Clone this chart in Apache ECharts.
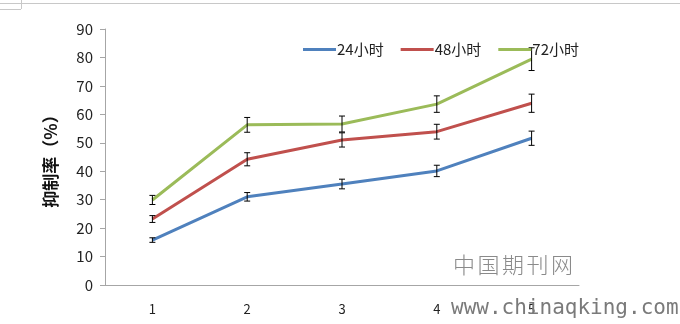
<!DOCTYPE html>
<html>
<head>
<meta charset="utf-8">
<script src="https://cdn.jsdelivr.net/npm/echarts@6/dist/echarts.min.js"></script>
<style>
  html, body { margin: 0; padding: 0; background: #fff; }
  #chart-container { width: 680px; height: 324px; }
</style>
</head>
<body>
<div id="chart-container"></div>
<script>
// data
const categories = ['1', '2', '3', '4', '5'];
const h24 = [15.8, 31.0, 35.5, 40.1, 51.6];
const h48 = [23.2, 44.2, 51.0, 53.9, 63.9];
const h72 = [29.9, 56.3, 56.6, 63.6, 79.4];
const err24 = [0.8, 1.5, 1.7, 2.0, 2.5];
const err48 = [1.2, 2.3, 2.5, 2.6, 3.2];
const err72 = [1.6, 2.6, 2.8, 2.9, 4.0];
const seriesNames = ['24小时', '48小时', '72小时'];
const colors = ['#4F81BD', '#C0504D', '#9BBB59'];
const watermark = '中国期刊网';

var dom = document.getElementById('chart-container');
var myChart = echarts.init(dom, null, { renderer: 'canvas' });

const font = '"Noto Sans CJK SC", "Liberation Sans", sans-serif';

function errBars(vals, errs) {
  return vals.map(function (v, i) { return [i, v - errs[i], v + errs[i]]; });
}

function renderErr(params, api) {
  var lo = api.coord([api.value(0), api.value(1)]);
  var hi = api.coord([api.value(0), api.value(2)]);
  var w = 3;
  var st = { stroke: '#000', lineWidth: 1 };
  return {
    type: 'group',
    children: [
      { type: 'line', shape: { x1: lo[0], y1: lo[1], x2: hi[0], y2: hi[1] }, style: st },
      { type: 'line', shape: { x1: lo[0] - w, y1: lo[1], x2: lo[0] + w, y2: lo[1] }, style: st },
      { type: 'line', shape: { x1: hi[0] - w, y1: hi[1], x2: hi[0] + w, y2: hi[1] }, style: st }
    ]
  };
}

function lineSeries(name, data, color) {
  return {
    name: name,
    type: 'line',
    data: data,
    symbol: 'none',
    z: 2,
    lineStyle: { color: color, width: 3 },
    itemStyle: { color: color }
  };
}

function errSeries(vals, errs) {
  return {
    type: 'custom',
    renderItem: renderErr,
    data: errBars(vals, errs),
    z: 3,
    silent: true
  };
}

// watermark, one glyph at a time so it keeps its wide spacing
var marks = watermark.split('').map(function (ch, i) {
  return {
    type: 'text', left: 453 + i * 24.5, top: 254, z: 10,
    style: { text: ch, fill: '#8a8a8a', font: '300 22px "Noto Sans CJK SC", serif' }
  };
});

var option = {
  animation: false,
  textStyle: { fontFamily: font },
  grid: { left: 105, right: 101, top: 29, bottom: 39 },
  legend: {
    data: seriesNames.map(function (n) { return { name: n, icon: 'rect' }; }),
    left: 298,
    top: 37,
    itemWidth: 33,
    itemHeight: 3,
    itemGap: 17,
    textStyle: { fontSize: 15, color: '#222', fontFamily: font, padding: [0, 0, 0, -4] }
  },
  xAxis: {
    type: 'category',
    data: categories,
    axisLine: { lineStyle: { color: '#a6a6a6' } },
    axisTick: { alignWithLabel: true, length: 5, lineStyle: { color: '#a6a6a6' } },
    axisLabel: { color: '#222', fontSize: 13, margin: 18 }
  },
  yAxis: {
    type: 'value',
    min: 0,
    max: 90,
    interval: 10,
    name: '抑制率（%）',
    nameLocation: 'middle',
    nameGap: 46,
    nameTextStyle: { fontSize: 17, color: '#111', fontWeight: 'bold', fontFamily: font },
    axisLine: { show: true, lineStyle: { color: '#a6a6a6' } },
    axisTick: { show: true, length: 5, lineStyle: { color: '#a6a6a6' } },
    axisLabel: { color: '#222', fontSize: 15, margin: 12 },
    splitLine: { show: false }
  },
  graphic: [
    { type: 'line', shape: { x1: 0, y1: 3.5, x2: 680, y2: 3.5 }, style: { stroke: '#c8c8c8', lineWidth: 1 } },
    { type: 'line', shape: { x1: 21.5, y1: 0, x2: 21.5, y2: 9 }, style: { stroke: '#c8c8c8', lineWidth: 1 } },
    { type: 'line', shape: { x1: 0, y1: 9.5, x2: 21, y2: 9.5 }, style: { stroke: '#c8c8c8', lineWidth: 1 } },
    { type: 'text', left: 451, top: 298, z: 10,
      style: { text: 'www.chinaqking.com', fill: '#7a7a7a', font: '21px "DejaVu Sans Mono", monospace' } }
  ].concat(marks),
  series: [
    lineSeries(seriesNames[0], h24, colors[0]),
    lineSeries(seriesNames[1], h48, colors[1]),
    lineSeries(seriesNames[2], h72, colors[2]),
    errSeries(h24, err24),
    errSeries(h48, err48),
    errSeries(h72, err72)
  ]
};

myChart.setOption(option);
</script>
</body>
</html>
